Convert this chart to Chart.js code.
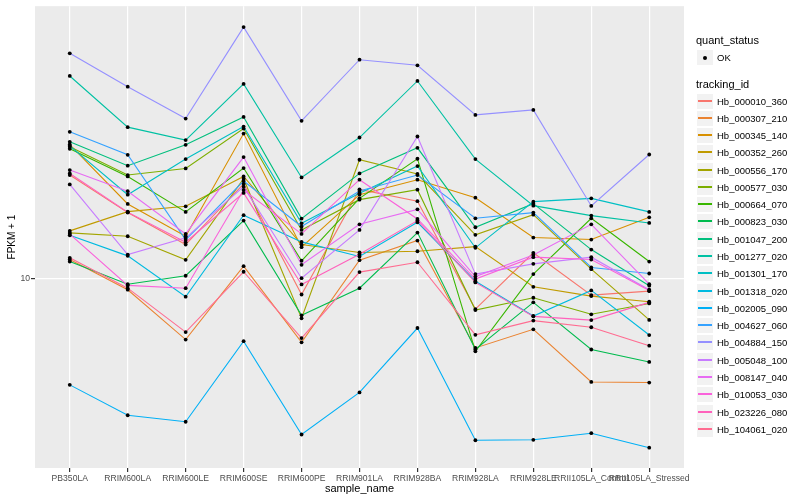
<!DOCTYPE html>
<html><head><meta charset="utf-8">
<script src="https://cdn.jsdelivr.net/npm/chart.js@4"></script>
<style>
html,body{margin:0;padding:0;background:#fff;}
#wrap{position:relative;width:800px;height:500px;font-family:"Liberation Sans",Arial,sans-serif;overflow:hidden;}
#c{position:absolute;left:0;top:0;}
.lg{position:absolute;white-space:nowrap;color:#000;}
.key{position:absolute;background:#F2F2F2;}
</style></head><body>
<div id="wrap"><canvas id="c" width="800" height="500"></canvas><div id="legend"></div></div>
<script>
const categories = ["PB350LA","RRIM600LA","RRIM600LE","RRIM600SE","RRIM600PE","RRIM901LA","RRIM928BA","RRIM928LA","RRIM928LE","RRII105LA_Control","RRII105LA_Stressed"];
const trackingIds = ["Hb_000010_360","Hb_000307_210","Hb_000345_140","Hb_000352_260","Hb_000556_170","Hb_000577_030","Hb_000664_070","Hb_000823_030","Hb_001047_200","Hb_001277_020","Hb_001301_170","Hb_001318_020","Hb_002005_090","Hb_004627_060","Hb_004884_150","Hb_005048_100","Hb_008147_040","Hb_010053_030","Hb_023226_080","Hb_104061_020"];
const seriesColors = ["#F8766D","#EA8331","#D89000","#C09B00","#A3A500","#7CAE00","#39B600","#00BB4E","#00BF7D","#00C1A3","#00BFC4","#00BAE0","#00B0F6","#35A2FF","#9590FF","#C77CFF","#E76BF3","#FA62DB","#FF62BC","#FF6C91"];
const yTicks = [10];
const yMin = 2.326, yMax = 81.28;

const hb_000010_360 = [22.16,16.60,12.98,20.69,8.84,19.85,18.13,7.90,12.18,8.80,9.07];
const hb_000307_210 = [11.57,9.17,6.25,10.99,6.12,11.51,13.39,5.86,6.76,4.51,4.49];
const hb_000345_140 = [28.03,17.74,13.84,30.50,12.72,19.05,21.38,18.62,13.70,13.49,16.01];
const hb_000352_260 = [14.42,16.72,17.42,21.93,12.98,12.21,12.33,12.78,9.38,8.73,8.36];
const hb_000556_170 = [14.20,13.84,11.54,21.54,7.36,24.93,22.34,13.99,16.34,10.74,7.27];
const hb_000577_030 = [27.54,22.16,23.32,31.70,14.53,18.34,19.80,7.84,8.62,7.59,8.25];
const hb_000664_070 = [27.12,21.93,16.69,23.39,11.46,18.52,25.12,5.71,10.34,15.89,11.39];
const hb_000823_030 = [11.39,9.57,10.21,15.61,7.53,9.28,14.23,5.79,8.32,5.79,5.26];
const hb_001047_200 = [28.62,23.81,27.97,34.67,15.85,22.44,27.33,14.83,17.78,12.49,9.46];
const hb_001277_020 = [47.50,32.04,29.00,44.67,21.76,29.58,45.71,25.06,17.51,16.22,15.33];
const hb_001301_170 = [27.75,19.05,25.06,32.19,15.29,19.28,23.75,12.66,18.06,18.52,16.69];
const hb_001318_020 = [13.94,11.90,8.69,16.28,13.25,11.84,15.41,9.79,7.49,9.12,6.47];
const hb_002005_090 = [4.41,3.49,3.32,6.17,3.01,4.16,6.83,2.88,2.89,3.04,2.72];
const hb_004627_060 = [30.90,25.90,13.46,21.17,14.91,19.60,22.16,15.89,16.60,10.88,10.39];
const hb_004884_150 = [56.54,43.75,34.22,69.18,33.63,53.83,51.56,35.21,36.59,17.47,25.96];
const hb_005048_100 = [20.62,12.02,13.67,20.26,10.02,14.53,29.81,10.34,11.19,11.78,9.17];
const hb_008147_040 = [23.03,19.57,14.09,25.45,11.11,15.17,17.02,10.15,11.98,15.17,9.57];
const hb_010053_030 = [14.07,9.48,9.28,19.75,14.09,21.38,15.81,9.95,11.78,11.57,9.12];
const hb_023226_080 = [22.44,16.66,13.21,19.31,9.55,12.05,15.61,9.70,7.47,7.26,8.32];
const hb_104061_020 = [11.72,9.28,6.62,10.53,6.32,10.50,11.33,6.48,7.23,6.87,5.96];

const seriesValues = [hb_000010_360,hb_000307_210,hb_000345_140,hb_000352_260,hb_000556_170,hb_000577_030,hb_000664_070,hb_000823_030,hb_001047_200,hb_001277_020,hb_001301_170,hb_001318_020,hb_002005_090,hb_004627_060,hb_004884_150,hb_005048_100,hb_008147_040,hb_010053_030,hb_023226_080,hb_104061_020];

const FONT = '"Liberation Sans", Arial, sans-serif';
Chart.defaults.font.family = FONT;

const datasets = seriesValues.map((vals, i) => ({
  label: trackingIds[i],
  data: vals.map((v, j) => ({x: j, y: v})),
  borderColor: seriesColors[i],
  backgroundColor: seriesColors[i],
  borderWidth: 1.1,
  pointRadius: 0,
  fill: false,
  tension: 0,
  order: seriesValues.length - i
}));
datasets.push({
  label: 'OK',
  data: seriesValues.flatMap(vals => vals.map((v, j) => ({x: j, y: v}))),
  showLine: false,
  pointRadius: 1.9,
  pointBackgroundColor: '#000000',
  pointBorderWidth: 0,
  borderColor: '#000000',
  order: 0
});

const panelBg = {
  id: 'panelBg',
  beforeDraw(chart) {
    const {ctx, chartArea: a} = chart;
    ctx.save();
    ctx.fillStyle = '#EBEBEB';
    ctx.fillRect(a.left, a.top, a.right - a.left, a.bottom - a.top);
    ctx.restore();
  }
};

new Chart(document.getElementById('c'), {
  type: 'line',
  data: {datasets},
  plugins: [panelBg],
  options: {
    responsive: false,
    animation: false,
    events: [],
    layout: {padding: {left: 0, right: 116, top: 5, bottom: 0}},
    plugins: {legend: {display: false}, tooltip: {enabled: false}},
    scales: {
      x: {
        type: 'linear', min: -0.6, max: 10.6,
        afterBuildTicks: s => { s.ticks = categories.map((c, i) => ({value: i})); },
        afterFit: s => { s.height = 32; },
        grid: {color: '#FFFFFF', lineWidth: 1.2, tickColor: '#333333', tickLength: 4, drawTicks: true},
        border: {display: false},
        ticks: {autoSkip: false, maxRotation: 0, minRotation: 0, color: '#4D4D4D', font: {size: 8.6}, padding: 1,
          callback: v => categories[v]},
        title: {display: true, text: 'sample_name', color: '#000000', font: {size: 11}, padding: {top: 0, bottom: 4}}
      },
      y: {
        type: 'logarithmic', min: yMin, max: yMax,
        afterBuildTicks: s => { s.ticks = yTicks.map(v => ({value: v})); },
        afterFit: s => { s.width = 35; },
        grid: {color: '#FFFFFF', lineWidth: 1.2, tickColor: '#333333', tickLength: 4, drawTicks: true},
        border: {display: false},
        ticks: {color: '#4D4D4D', font: {size: 8.6}, padding: 1, callback: v => String(v)},
        title: {display: true, text: 'FPKM + 1', color: '#000000', font: {size: 10}, padding: {top: 6, bottom: 0}}
      }
    }
  }
});

// ggplot-style legend
const lg = document.getElementById('legend');
function addText(text, left, cy, size) {
  const d = document.createElement('div');
  const lh = Math.round(size * 1.2);
  d.className = 'lg';
  d.textContent = text;
  d.style.left = left + 'px';
  d.style.fontSize = size + 'px';
  d.style.lineHeight = lh + 'px';
  d.style.top = Math.round(cy - lh / 2) + 'px';
  lg.appendChild(d);
}
function addKey(cy, color, isDot) {
  const top = Math.round(cy - 7.5);
  const k = document.createElement('div');
  k.className = 'key';
  k.style.left = '697px'; k.style.width = '16px';
  k.style.top = top + 'px'; k.style.height = '15px';
  const m = document.createElement('div');
  m.style.position = 'absolute';
  if (isDot) {
    m.style.left = '6px'; m.style.top = '5.5px'; m.style.width = '4px'; m.style.height = '4px';
    m.style.borderRadius = '50%'; m.style.background = color;
  } else {
    m.style.left = '1px'; m.style.width = '14px'; m.style.top = '6px'; m.style.height = '2px';
    m.style.background = color;
  }
  k.appendChild(m);
  lg.appendChild(k);
}
addText('quant_status', 696, 40.7, 11);
addKey(57, '#000000', true);
addText('OK', 717, 57, 9.5);
addText('tracking_id', 696, 84.3, 11);
trackingIds.forEach((id, i) => {
  const cy = 101 + 17.28 * i;
  addKey(cy, seriesColors[i], false);
  addText(id, 717, cy, 9.5);
});
</script>
</body></html>
